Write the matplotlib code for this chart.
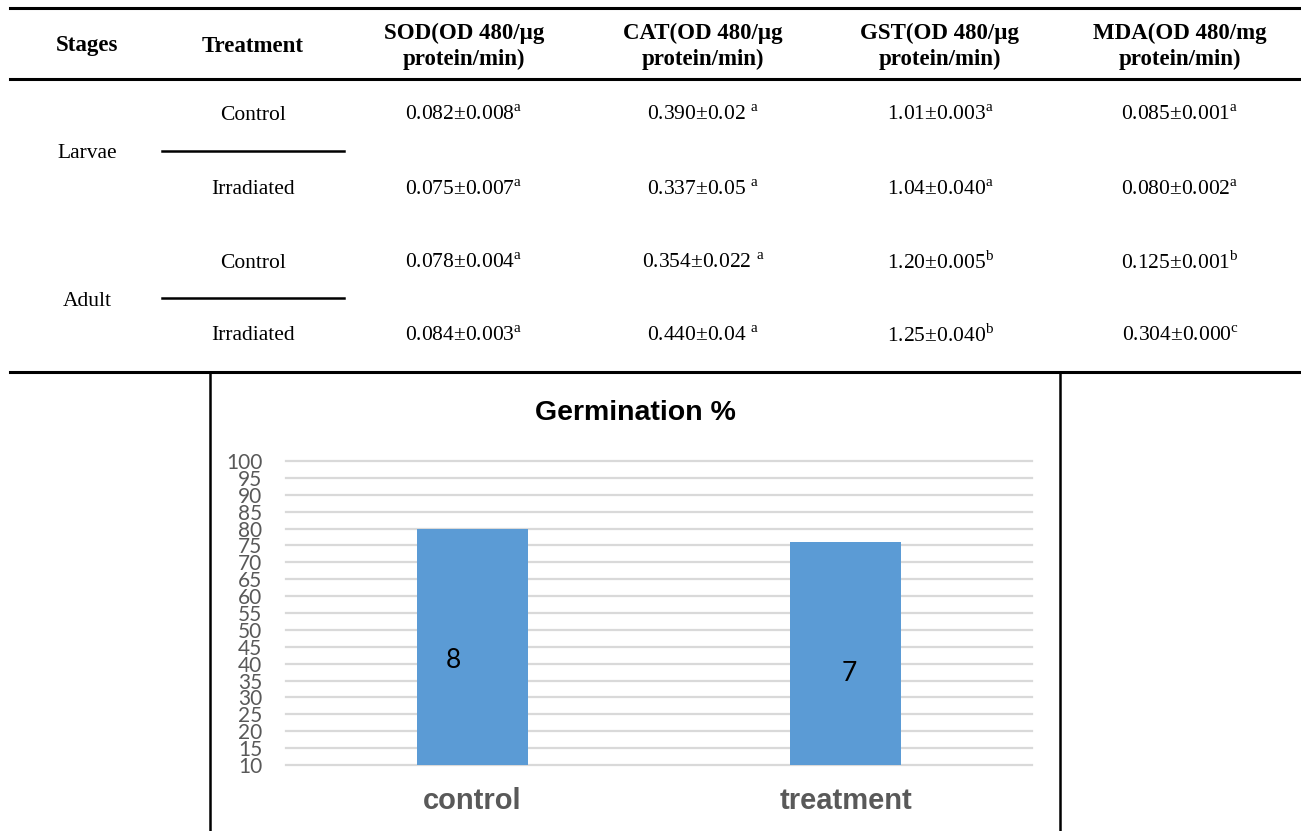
import numpy as np
import matplotlib
matplotlib.use('Agg')
import matplotlib.pyplot as plt
from matplotlib.lines import Line2D

#%% table data
headers = ['Stages', 'Treatment', 'SOD(OD 480/µg\nprotein/min)', 'CAT(OD 480/µg\nprotein/min)',
           'GST(OD 480/µg\nprotein/min)', 'MDA(OD 480/mg\nprotein/min)']
stages = ['Larvae', 'Adult']
treatments = ['Control', 'Irradiated', 'Control', 'Irradiated']
sod = ['0.082±0.008$^{\\mathrm{a}}$', '0.075±0.007$^{\\mathrm{a}}$',
       '0.078±0.004$^{\\mathrm{a}}$', '0.084±0.003$^{\\mathrm{a}}$']
cat = ['0.390±0.02 $^{\\mathrm{a}}$', '0.337±0.05 $^{\\mathrm{a}}$',
       '0.354±0.022 $^{\\mathrm{a}}$', '0.440±0.04 $^{\\mathrm{a}}$']
gst = ['1.01±0.003$^{\\mathrm{a}}$', '1.04±0.040$^{\\mathrm{a}}$',
       '1.20±0.005$^{\\mathrm{b}}$', '1.25±0.040$^{\\mathrm{b}}$']
mda = ['0.085±0.001$^{\\mathrm{a}}$', '0.080±0.002$^{\\mathrm{a}}$',
       '0.125±0.001$^{\\mathrm{b}}$', '0.304±0.000$^{\\mathrm{c}}$']

#%% chart data
categories = ['control', 'treatment']
germination = [80, 76]
bar_labels = ['8', '7']
label_x = [-0.05, 1.01]
label_y = [41, 37]

W, H = 1301, 831
fig = plt.figure(figsize=(W/100, H/100), dpi=100)
plt.rcParams['mathtext.fontset'] = 'custom'
plt.rcParams['mathtext.rm'] = 'Liberation Serif'

def px(x, y):
    return x/W, 1 - y/H

def hline(x0, x1, y, lw=2.2, c='black'):
    fig.add_artist(Line2D([x0/W, x1/W], [1-y/H, 1-y/H], color=c, lw=lw))

def vline(x, y0, y1, lw=1.8, c='black'):
    fig.add_artist(Line2D([x/W, x/W], [1-y0/H, 1-y1/H], color=c, lw=lw))

serif = 'Liberation Serif'
col_x = [87, 253, 464, 703, 940, 1180]
row_y = [115, 190, 263, 336]
stage_y = [153, 301]

for cx, h in zip(col_x, headers):
    fig.text(*px(cx, 46), h, ha='center', va='center', family=serif,
             weight='bold', fontsize=16.5, linespacing=1.3)

for i in range(4):
    vals = [treatments[i], sod[i], cat[i], gst[i], mda[i]]
    for cx, v in zip(col_x[1:], vals):
        fig.text(*px(cx, row_y[i]), v, ha='center', va='center', family=serif, fontsize=15.5)
for s, sy in zip(stages, stage_y):
    fig.text(*px(col_x[0], sy), s, ha='center', va='center', family=serif, fontsize=15.5)

hline(10, W, 8)
hline(10, W, 79)
hline(10, W, 372)
hline(162, 344, 151, lw=1.8)
hline(162, 344, 298, lw=1.8)

# chart frame
vline(210, 372, H)
vline(1060, 372, H)

#%% Germination chart
ax = fig.add_axes([286/W, 1-765/H, 746/W, 304/H])
x = np.arange(len(categories))
ax.bar(x, germination, width=0.30, color='#5B9BD5', zorder=3)
ax.set_xlim(-0.5, 1.5)
ax.set_ylim(10, 100)
ax.set_yticks(np.arange(10, 101, 5))
ax.yaxis.grid(True, color='#D9D9D9', lw=1.6, zorder=0)
for gl in ax.get_ygridlines():
    gl.set_clip_on(False)
ax.set_axisbelow(True)
for sp in ax.spines.values():
    sp.set_visible(False)
ax.tick_params(axis='y', length=0, pad=17, labelsize=15, labelcolor='#595959')
for t in ax.get_yticklabels():
    t.set_family('Lato')
ax.set_xticks(x)
ax.set_xticklabels(categories, fontsize=21, weight='bold', color='#595959', family='Liberation Sans')
ax.tick_params(axis='x', length=0, pad=16)
for lx, ly, lab in zip(label_x, label_y, bar_labels):
    ax.text(lx, ly, lab, ha='center', va='center', fontsize=19, family='Lato', color='black')
fig.text(*px(635, 413), 'Germination %', ha='center', va='center', fontsize=20.5,
         weight='bold', family='Liberation Sans')

fig.savefig('out.png', dpi=100)
